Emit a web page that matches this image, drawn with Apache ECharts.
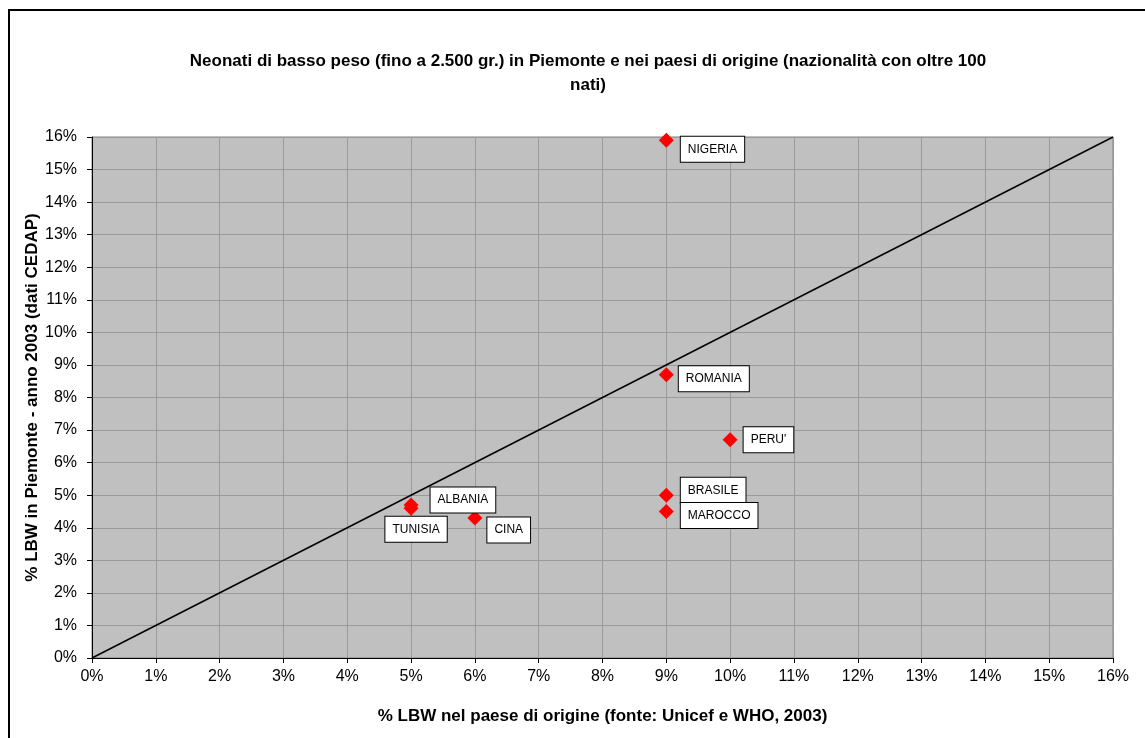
<!DOCTYPE html>
<html>
<head>
<meta charset="utf-8">
<script src="https://cdn.jsdelivr.net/npm/echarts@6/dist/echarts.min.js"></script>
<style>
  html, body { margin: 0; padding: 0; background: #fff; }
  #chart { width: 1145px; height: 738px; }
</style>
</head>
<body>
<div id="chart"></div>
<script>
  // dati: % LBW nel paese di origine (x) e in Piemonte (y)
  const countries = ['NIGERIA', 'ROMANIA', 'PERU\'', 'BRASILE', 'MAROCCO', 'ALBANIA', 'TUNISIA', 'CINA'];
  const originLBW = [9, 9, 10, 9, 9, 5, 5, 6];
  const piemonteLBW = [15.9, 8.7, 6.7, 5.0, 4.5, 4.7, 4.6, 4.3];
  const bisector = [[0, 0], [16, 16]];

  // posizione delle etichette (solo stile)
  const labelPlace = {
    'NIGERIA': ['right', [2, 9]],
    'ROMANIA': ['right', [0, 4]],
    'PERU\'': ['right', [1, 0]],
    'BRASILE': ['right', [2, -5]],
    'MAROCCO': ['right', [2, 4]],
    'ALBANIA': ['right', [7, -5]],
    'TUNISIA': ['bottom', [5, -4]],
    'CINA': ['right', [0, 12]]
  };

  let points = countries.map((name, i) => {
    let p = labelPlace[name];
    return {
      name: name,
      value: [originLBW[i], piemonteLBW[i]],
      label: { position: p[0], offset: p[1] }
    };
  });

  let font = 'Arial, "Liberation Sans", sans-serif';
  let myChart = echarts.init(document.getElementById('chart'));

  myChart.setOption({
    backgroundColor: '#fff',
    animation: false,
    title: {
      text: 'Neonati di basso peso (fino a 2.500 gr.) in Piemonte e nei paesi di origine (nazionalità con oltre 100\nnati)',
      left: 583,
      top: 44,
      textAlign: 'center',
      textStyle: {
        fontFamily: font,
        fontSize: 17,
        fontWeight: 'bold',
        color: '#000',
        lineHeight: 24
      }
    },
    graphic: [{
      type: 'rect',
      shape: { x: 9, y: 10, width: 1200, height: 800 },
      style: { fill: 'none', stroke: '#000', lineWidth: 2 },
      silent: true
    }],
    grid: {
      left: 92,
      right: 32,
      top: 137,
      bottom: 80,
      show: true,
      backgroundColor: '#c0c0c0',
      borderColor: '#808080',
      borderWidth: 1
    },
    xAxis: {
      type: 'value',
      min: 0,
      max: 16,
      interval: 1,
      name: '% LBW nel paese di origine (fonte: Unicef e WHO, 2003)',
      nameLocation: 'middle',
      nameGap: 50,
      nameTextStyle: { fontFamily: font, fontSize: 17, fontWeight: 'bold', color: '#000' },
      axisLine: { show: true, lineStyle: { color: '#000', width: 1 } },
      axisTick: { show: true, length: 5, lineStyle: { color: '#000' } },
      axisLabel: { formatter: '{value}%', fontFamily: font, fontSize: 16, color: '#000', margin: 11 },
      splitLine: { show: true, lineStyle: { color: '#9a9a9a', width: 1 } }
    },
    yAxis: {
      type: 'value',
      min: 0,
      max: 16,
      interval: 1,
      name: '% LBW in Piemonte - anno 2003 (dati CEDAP)',
      nameLocation: 'middle',
      nameGap: 51,
      nameMoveOverlap: false,
      nameTextStyle: { fontFamily: font, fontSize: 17, fontWeight: 'bold', color: '#000' },
      axisLine: { show: true, lineStyle: { color: '#000', width: 1 } },
      axisTick: { show: true, length: 5, lineStyle: { color: '#000' } },
      axisLabel: { formatter: '{value}%', fontFamily: font, fontSize: 16, color: '#000', margin: 15 },
      splitLine: { show: true, lineStyle: { color: '#9a9a9a', width: 1 } }
    },
    series: [{
      name: 'bisettrice',
      type: 'line',
      data: bisector,
      symbol: 'none',
      lineStyle: { color: '#000', width: 1.5 },
      z: 2
    }, {
      name: 'nazionalità',
      type: 'scatter',
      data: points,
      symbol: 'diamond',
      symbolSize: 15,
      itemStyle: { color: '#ff0000', opacity: 1 },
      z: 3,
      label: {
        show: true,
        formatter: '{b}',
        fontFamily: font,
        fontSize: 12,
        color: '#000',
        backgroundColor: '#ffffff',
        borderColor: '#000',
        borderWidth: 1,
        padding: [7, 7, 6, 7]
      }
    }]
  });

  window.addEventListener('resize', () => {
    myChart.resize();
  });
</script>
</body>
</html>
